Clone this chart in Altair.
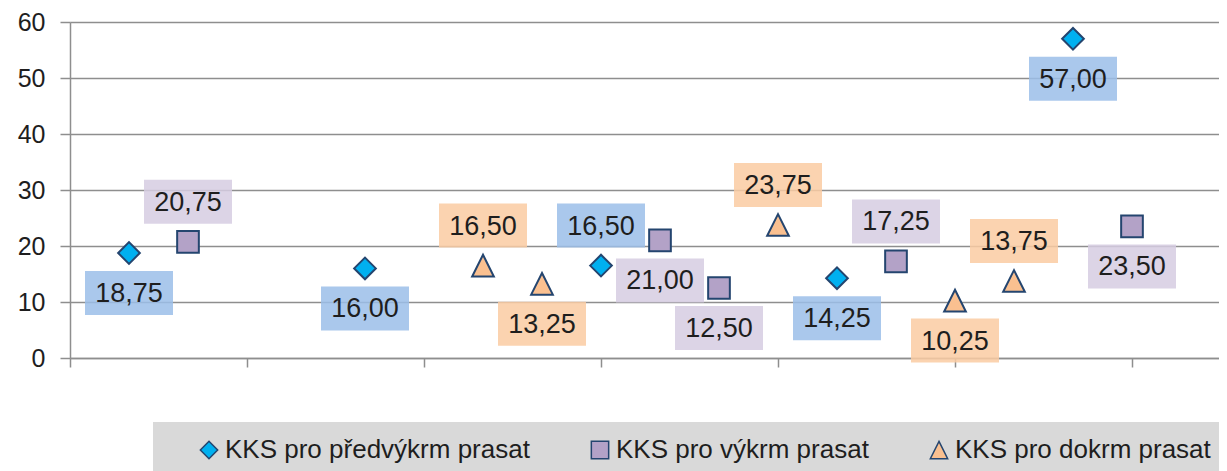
import altair as alt
import pandas as pd

# ---------------- data ----------------
series_names = ["KKS pro předvýkrm prasat", "KKS pro výkrm prasat", "KKS pro dokrm prasat"]

# slot index along the x axis (three slots per category, 6 categories)
predvykrm_slots = [1, 5, 9, 13, 17]
predvykrm_values = [18.75, 16.00, 16.50, 14.25, 57.00]
predvykrm_label_side = ["below", "below", "above", "below", "below"]

vykrm_slots = [2, 10, 11, 14, 18]
vykrm_values = [20.75, 21.00, 12.50, 17.25, 23.50]
vykrm_label_side = ["above", "below", "below", "above", "below"]

dokrm_slots = [7, 8, 12, 15, 16]
dokrm_values = [16.50, 13.25, 23.75, 10.25, 13.75]
dokrm_label_side = ["above", "below", "above", "below", "above"]

y_ticks = [0, 10, 20, 30, 40, 50, 60]
x_category_bounds = [0, 3, 6, 9, 12, 15, 18]

# ---------------- styles ----------------
FONT = "Liberation Sans"
TEXT = "#1e1e1e"
GRAY = "#8e8e8e"
STROKE = "#24456f"
marker_fills = ["#00b0f0", "#b3a2c7", "#fac090"]
marker_shapes = ["diamond", "square", "M0,-1L1,1L-1,1Z"]
box_fills = {
    series_names[0]: "#9bbee9",
    series_names[1]: "#d6cce2",
    series_names[2]: "#facba2",
}

W, H = 1149, 336
PX_PER_UNIT = H / 60.0
LABEL_OFF = 40 / PX_PER_UNIT

rows = []
for name, slots, vals, sides in [
    (series_names[0], predvykrm_slots, predvykrm_values, predvykrm_label_side),
    (series_names[1], vykrm_slots, vykrm_values, vykrm_label_side),
    (series_names[2], dokrm_slots, dokrm_values, dokrm_label_side),
]:
    for s, v, side in zip(slots, vals, sides):
        rows.append({
            "series": name,
            "slot": s,
            "value": v,
            "side": side,
            "label": f"{v:.2f}".replace(".", ","),
            "box_fill": box_fills[name],
        })
df = pd.DataFrame(rows)

x_scale = alt.Scale(domain=[0, W / 59.0], nice=False, zero=False)
y_scale = alt.Scale(domain=[0, 60], nice=False)

x_axis = alt.Axis(values=x_category_bounds, labels=False, title=None, grid=False,
                  domainColor=GRAY, domainWidth=1.5, tickColor=GRAY, tickWidth=1.5,
                  tickSize=9)
y_axis = alt.Axis(values=y_ticks, title=None, grid=True, gridColor=GRAY, gridWidth=1.5,
                  domainColor=GRAY, domainWidth=1.5, tickColor=GRAY, tickWidth=1.5,
                  tickSize=10, labelPadding=15, labelFont=FONT, labelFontSize=25,
                  labelColor=TEXT)

legend = alt.Legend(
    title="\u00a0", titleOrient="left", titlePadding=28, titleFontSize=27, titleFont=FONT,
    orient="none", legendX=83, legendY=400, direction="horizontal",
    fillColor="#d9d9d9", padding=15,
    labelFont=FONT, labelFontSize=26, labelColor=TEXT, labelLimit=600,
    symbolSize=300, symbolStrokeColor=STROKE, symbolStrokeWidth=1.5,
    labelOffset=3, columnPadding=57,
)

base = alt.Chart(df)

points = base.mark_point(filled=True, strokeWidth=2, opacity=1,
                         fillOpacity=1, size=470).encode(
    x=alt.X("slot:Q", scale=x_scale, axis=x_axis),
    y=alt.Y("value:Q", scale=y_scale, axis=y_axis),
    fill=alt.Fill("series:N", scale=alt.Scale(domain=series_names, range=marker_fills),
                  legend=legend),
    shape=alt.Shape("series:N", scale=alt.Scale(domain=series_names, range=marker_shapes),
                    legend=legend),
    stroke=alt.Stroke("series:N", scale=alt.Scale(domain=series_names, range=[STROKE] * 3),
                      legend=legend),
)

labelled = base.transform_calculate(
    label_y=f"datum.value + (datum.side == 'above' ? {LABEL_OFF} : -{LABEL_OFF})"
)

boxes = labelled.mark_point(filled=True, shape="M-1,-0.5L1,-0.5L1,0.5L-1,0.5Z",
                            size=88 * 88, fillOpacity=0.85, opacity=1, strokeWidth=0).encode(
    x=alt.X("slot:Q", scale=x_scale),
    y=alt.Y("label_y:Q", scale=y_scale),
    fill=alt.Fill("box_fill:N", scale=None, legend=None),
)

texts = labelled.mark_text(font=FONT, fontSize=27, color=TEXT, baseline="middle",
                           align="center", dy=1).encode(
    x=alt.X("slot:Q", scale=x_scale),
    y=alt.Y("label_y:Q", scale=y_scale),
    text="label:N",
)

chart = alt.layer(points, boxes, texts).properties(
    width=W, height=H,
    padding={"left": 62, "top": 14, "right": 0, "bottom": 113},
    autosize=alt.AutoSizeParams(type="none"),
    background="white",
).configure_view(stroke=None)

chart.save("out.html", embed_options={"renderer": "svg", "actions": False})
